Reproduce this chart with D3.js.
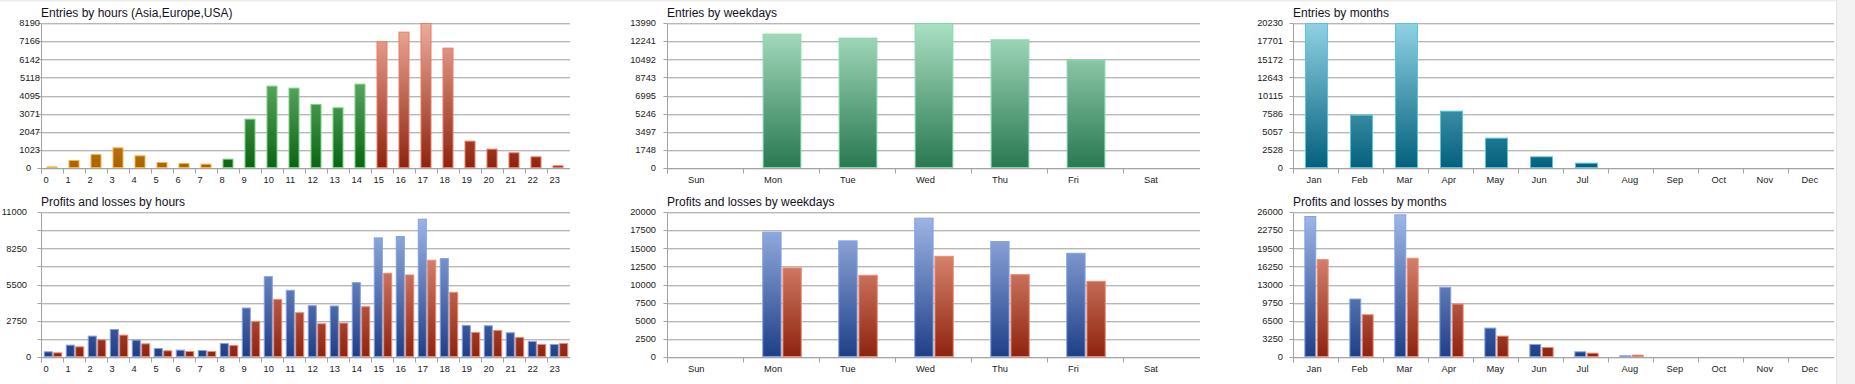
<!DOCTYPE html>
<html><head><meta charset="utf-8">
<script src="https://cdn.jsdelivr.net/npm/d3@7"></script>
<style>html,body{margin:0;padding:0;background:#fff;overflow:hidden}</style>
</head><body>
<svg id="c" width="1855" height="384"></svg>
<script>
// ---------- data ----------
const hourLabels = ["0","1","2","3","4","5","6","7","8","9","10","11","12","13","14","15","16","17","18","19","20","21","22","23"];
const hourSession = ["asia","asia","asia","asia","asia","asia","asia","asia","europe","europe","europe","europe","europe","europe","europe","usa","usa","usa","usa","usa","usa","usa","usa","usa"];
const weekdayLabels = ["Sun","Mon","Tue","Wed","Thu","Fri","Sat"];
const monthLabels = ["Jan","Feb","Mar","Apr","May","Jun","Jul","Aug","Sep","Oct","Nov","Dec"];

const entriesByHour = [90,452,791,1167,716,339,282,245,527,2787,4651,4538,3615,3427,4764,7155,7702,8190,6798,1544,1092,885,659,151];
const entriesByWeekday = [0,12961,12575,13990,12414,10420,0];
const entriesByMonth = [20230,7440,20230,7998,4232,1628,744,0,0,0,0,0];

const profitsByHour = [431,938,1622,2129,1318,684,558,532,1065,3752,6135,5095,3929,3904,5678,9075,9177,10495,7504,2434,2408,1876,1217,989];
const lossesByHour  = [355,811,1343,1698,1039,507,456,456,912,2738,4411,3397,2560,2611,3853,6388,6261,7377,4943,1901,2053,1521,989,1065];
const profitsByWeekday = [0,17281,16083,19217,15991,14378,0];
const lossesByWeekday  = [0,12350,11336,13963,11428,10507,0];
const profitsByMonth = [25280,10484,25580,12580,5272,2336,1018,300,0,0,0,0];
const lossesByMonth  = [17553,7668,17792,9585,3834,1797,779,419,0,0,0,0];

const ticksEntriesHour = [0,1023,2047,3071,4095,5118,6142,7166,8190];
const ticksEntriesWeekday = [0,1748,3497,5246,6995,8743,10492,12241,13990];
const ticksEntriesMonth = [0,2528,5057,7586,10115,12643,15172,17701,20230];
const gridPLHour = [0,1375,2750,4125,5500,6875,8250,9625,11000];
const ticksPLHour = [0,2750,5500,8250,11000];
const ticksPLWeekday = [0,2500,5000,7500,10000,12500,15000,17500,20000];
const ticksPLMonth = [0,3250,6500,9750,13000,16250,19500,22750,26000];

// ---------- styles ----------
const grads = {
  asia:   {lo:"#a86300", hi:"#f6c98c", stroke:"#f7b444"},
  europe: {lo:"#0a6414", hi:"#90d396", stroke:"#78d37e"},
  usa:    {lo:"#8e230e", hi:"#efab9b", stroke:"#ec7a64"},
  wk:     {lo:"#287850", hi:"#abe0c4", stroke:"#84d8ab"},
  mo:     {lo:"#03607c", hi:"#90d2e4", stroke:"#5cc3de"},
  blue:   {lo:"#1e3e87", hi:"#a2b9e9", stroke:"#83a2e4"},
  red:    {lo:"#8e230e", hi:"#f5ab96", stroke:"#f08a70"}
};

const svg = d3.select("#c");
const defs = svg.append("defs");
svg.append("rect").attr("x",0).attr("y",0).attr("width",1855).attr("height",384).attr("fill","#fff");
svg.append("rect").attr("x",0).attr("y",0).attr("width",1855).attr("height",1.5).attr("fill","#ececec");
svg.append("rect").attr("x",1836).attr("y",0).attr("width",19).attr("height",384).attr("fill","#f3f3f3");
svg.append("line").attr("x1",1836.5).attr("x2",1836.5).attr("y1",0).attr("y2",384).attr("stroke","#e2e2e2");

let gid = 0;
function gradient(key, yLo, yHi){
  const id = "g"+(gid++);
  const g = defs.append("linearGradient").attr("id",id).attr("gradientUnits","userSpaceOnUse")
    .attr("x1",0).attr("x2",0).attr("y1",yLo).attr("y2",yHi);
  g.append("stop").attr("offset","0%").attr("stop-color",grads[key].lo);
  g.append("stop").attr("offset","100%").attr("stop-color",grads[key].hi);
  return "url(#"+id+")";
}

function chart(cfg){
  const g = svg.append("g");
  const y = d3.scaleLinear().domain([0,cfg.max]).range([cfg.yZero,cfg.yTop]);
  const x = d3.scaleBand().domain(cfg.cats).range([cfg.x0,cfg.x1]).padding(0);
  const bw = x.bandwidth();
  const crisp = v => Math.round(v)+0.5;

  // grid lines
  const grid = cfg.grid || cfg.ticks;
  grid.forEach(v=>{
    const yy = crisp(y(v));
    g.append("line").attr("x1",cfg.x0).attr("x2",cfg.x1).attr("y1",yy+1).attr("y2",yy+1).attr("stroke","#e4e4e4");
    g.append("line").attr("x1",cfg.x0).attr("x2",cfg.x1).attr("y1",yy).attr("y2",yy).attr("stroke","#b7b7b7");
  });

  // bars
  const sub = d3.scaleBand().domain(d3.range(cfg.series.length)).range([0,bw*cfg.frac]).paddingInner(cfg.series.length>1?0.04:0);
  cfg.series.forEach((s,si)=>{
    g.selectAll(null).data(s.values).join("rect")
      .attr("x",(d,i)=>x(cfg.cats[i]) + bw*(1-cfg.frac)/2 + cfg.barShift + sub(si) + 0.5)
      .attr("width",Math.max(0,sub.bandwidth()-1))
      .attr("y",d=>y(d)+0.5)
      .attr("height",d=>Math.max(0,y(0)-y(d)-1))
      .attr("fill",(d,i)=>s.fill(i))
      .attr("stroke",(d,i)=>s.stroke(i))
      .attr("stroke-width",1)
      .attr("display",d=>d>0?null:"none");
  });

  // axes
  const ax = "#a3a3a3";
  const xa = crisp(cfg.x0)-1;
  const yz = crisp(y(0));
  g.append("line").attr("x1",xa).attr("x2",cfg.x1).attr("y1",yz).attr("y2",yz).attr("stroke",ax);
  g.append("line").attr("x1",xa).attr("x2",xa).attr("y1",crisp(cfg.yTop)).attr("y2",yz+5).attr("stroke",ax);
  cfg.cats.forEach(c=>{
    const xx = crisp(x(c))-1;
    g.append("line").attr("x1",xx).attr("x2",xx).attr("y1",yz).attr("y2",yz+5).attr("stroke",ax);
  });
  grid.forEach(v=>{
    const yy = crisp(y(v));
    g.append("line").attr("x1",xa-4).attr("x2",xa).attr("y1",yy).attr("y2",yy).attr("stroke",ax);
  });

  // labels
  g.selectAll(null).data(cfg.ticks).join("text")
    .attr("x",d=> d===0 && cfg.zeroX ? cfg.zeroX : cfg.labelRight)
    .attr("y",d=>y(d)).attr("dy","0.36em")
    .attr("text-anchor",d=> d===0 && cfg.zeroX ? "middle" : "end")
    .attr("font-family","Liberation Sans, Arial, sans-serif").attr("font-size","9.3px").attr("fill","#1a1a1a")
    .text(d=>d);
  g.selectAll(null).data(cfg.cats).join("text")
    .attr("x",d=>x(d)+cfg.xLabelOff).attr("y",cfg.yZero+14.6)
    .attr("font-family","Liberation Sans, Arial, sans-serif").attr("font-size","9.3px").attr("fill","#1a1a1a")
    .text(d=>d);
  g.append("text").attr("x",cfg.x0-1).attr("y",cfg.yTop-5.6)
    .attr("font-family","Liberation Sans, Arial, sans-serif").attr("font-size","12px").attr("fill","#14101e")
    .text(cfg.title);
}

const rows = [{yTop:23,yZero:168},{yTop:212,yZero:357}];
const cols = [{x0:42,x1:570},{x0:668,x1:1200},{x0:1294,x1:1834}];

// Entries by hours
const gH = {};
["asia","europe","usa"].forEach(k=>gH[k]=gradient(k,rows[0].yZero,rows[0].yTop));
chart({title:"Entries by hours (Asia,Europe,USA)", cats:hourLabels, max:8190, ticks:ticksEntriesHour,
  ...rows[0], ...cols[0], frac:0.5, barShift:-1, labelRight:40, zeroX:28.7, xLabelOff:1.5,
  series:[{values:entriesByHour, fill:i=>gH[hourSession[i]], stroke:i=>grads[hourSession[i]].stroke}]});

// Entries by weekdays
const gW = gradient("wk",rows[0].yZero,rows[0].yTop);
chart({title:"Entries by weekdays", cats:weekdayLabels, max:13990, ticks:ticksEntriesWeekday,
  ...rows[0], ...cols[1], frac:0.51, barShift:0, labelRight:656, xLabelOff:20,
  series:[{values:entriesByWeekday, fill:()=>gW, stroke:()=>grads.wk.stroke}]});

// Entries by months
const gM = gradient("mo",rows[0].yZero,rows[0].yTop);
chart({title:"Entries by months", cats:monthLabels, max:20230, ticks:ticksEntriesMonth,
  ...rows[0], ...cols[2], frac:0.51, barShift:0, labelRight:1283, xLabelOff:12.6,
  series:[{values:entriesByMonth, fill:()=>gM, stroke:()=>grads.mo.stroke}]});

// Profits and losses
const gB = gradient("blue",rows[1].yZero,rows[1].yTop);
const gR = gradient("red",rows[1].yZero,rows[1].yTop);
const pl = (p,l)=>[{values:p, fill:()=>gB, stroke:()=>grads.blue.stroke},{values:l, fill:()=>gR, stroke:()=>grads.red.stroke}];

chart({title:"Profits and losses by hours", cats:hourLabels, max:11000, ticks:ticksPLHour, grid:gridPLHour,
  ...rows[1], ...cols[0], frac:0.84, barShift:0, labelRight:27, zeroX:28.7, xLabelOff:1.5,
  series:pl(profitsByHour,lossesByHour)});
chart({title:"Profits and losses by weekdays", cats:weekdayLabels, max:20000, ticks:ticksPLWeekday,
  ...rows[1], ...cols[1], frac:0.52, barShift:0, labelRight:656, xLabelOff:20,
  series:pl(profitsByWeekday,lossesByWeekday)});
chart({title:"Profits and losses by months", cats:monthLabels, max:26000, ticks:ticksPLMonth,
  ...rows[1], ...cols[2], frac:0.54, barShift:0, labelRight:1283, xLabelOff:12.6,
  series:pl(profitsByMonth,lossesByMonth)});
</script>
</body></html>
